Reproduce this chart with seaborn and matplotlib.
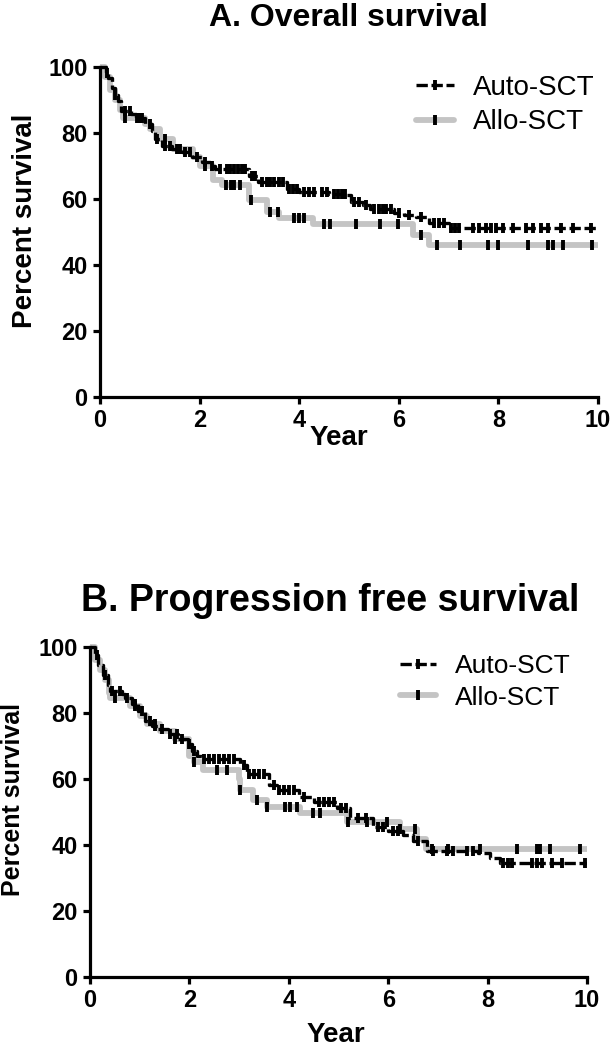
import numpy as np
import pandas as pd
import seaborn as sns
from matplotlib import pyplot as plt
from matplotlib.lines import Line2D

# ---- A. Overall survival ----
os_auto_t = [0, 0.12, 0.16, 0.24, 0.30, 0.36, 0.43, 0.62, 0.72, 0.90, 1.04, 1.10, 1.24, 1.44,
             1.64, 1.84, 2.04, 2.20, 2.30, 3.00, 3.18, 3.75, 4.00, 4.60, 4.95, 5.05, 5.28,
             5.42, 5.90, 6.10, 6.35, 6.60, 7.00, 10.0]
os_auto_s = [100, 98, 96.5, 93.5, 91.5, 89.6, 86.6, 85.5, 84.5, 82.5, 80.5, 78, 76, 75,
             74, 72.5, 71, 70, 69, 67, 65, 63, 62, 61.5, 61, 59, 58,
             57, 55.5, 55, 54.5, 52.5, 51, 51]
os_auto_cens = [0.15, 0.3, 0.5, 0.6, 0.75, 0.85, 1.0, 1.15, 1.3, 1.4, 1.55, 1.7, 1.8, 1.95,
                2.1, 2.25, 2.4, 2.55, 2.62, 2.7, 2.78, 2.85, 2.92, 3.05, 3.12, 3.25, 3.35,
                3.42, 3.5, 3.6, 3.68, 3.8, 3.88, 3.95, 4.1, 4.2, 4.3, 4.45, 4.55, 4.7, 4.78,
                4.85, 4.92, 5.1, 5.2, 5.35, 5.5, 5.6, 5.68, 5.75, 5.85, 6.0, 6.2, 6.45, 6.7,
                6.8, 6.9, 7.05, 7.12, 7.2, 7.5, 7.62, 7.75, 7.85, 7.95, 8.1, 8.3, 8.55, 8.7,
                8.85, 9.0, 9.25, 9.5, 9.85]
os_allo_t = [0, 0.10, 0.20, 0.30, 0.40, 0.46, 0.90, 1.00, 1.20, 1.47, 1.87, 2.00, 2.27,
             2.45, 3.00, 3.35, 3.60, 4.28, 6.29, 6.60, 10.0]
os_allo_s = [100, 97, 93, 90, 87, 84.5, 82.5, 81, 78, 75, 72.5, 70, 65.5,
             64, 59.6, 56, 54.2, 52.2, 49, 46, 46]
os_allo_cens = [0.5, 0.8, 1.3, 1.6, 2.1, 2.54, 2.63, 2.7, 2.81, 3.04, 3.41, 3.58, 3.9, 4.0,
                4.1, 4.49, 4.62, 5.15, 5.62, 5.98, 6.45, 6.76, 7.23, 7.8, 8.0, 8.6, 9.0,
                9.1, 9.3, 9.88]

# ---- B. Progression free survival ----
pfs_auto_t = [0, 0.10, 0.16, 0.26, 0.36, 0.40, 0.65, 0.70, 0.84, 0.97, 1.10, 1.24, 1.37,
              1.57, 1.77, 1.97, 2.05, 2.15, 2.25, 3.02, 3.15, 3.60, 3.76, 4.20, 4.50, 4.97,
              5.23, 5.70, 6.00, 6.30, 6.50, 6.78, 7.80, 8.05, 8.25, 10.0]
pfs_auto_s = [100, 97.5, 94.5, 91.5, 88.5, 86.6, 85.5, 84.5, 82.5, 80.6, 77.6, 76, 75,
              73.5, 72, 70.5, 68.5, 67, 66, 64, 61.5, 58, 56.6, 54.5, 53, 51,
              48, 45.5, 44, 43, 41, 38, 37.5, 36, 34.5, 34.5]
pfs_auto_cens = [0.15, 0.3, 0.45, 0.6, 0.75, 0.9, 1.05, 1.2, 1.3, 1.45, 1.6, 1.75, 1.85, 2.0,
                 2.1, 2.3, 2.4, 2.5, 2.6, 2.7, 2.8, 2.9, 3.1, 3.2, 3.3, 3.4, 3.5, 3.7, 3.8,
                 3.9, 4.0, 4.1, 4.3, 4.6, 4.7, 4.8, 4.9, 5.05, 5.15, 5.4, 5.55, 5.8, 5.9,
                 6.1, 6.2, 6.6, 6.9, 7.18, 7.3, 7.58, 7.7, 8.31, 8.4, 8.5, 8.9, 9.0, 9.1,
                 9.3, 9.5, 9.96]
pfs_allo_t = [0, 0.10, 0.20, 0.30, 0.38, 0.40, 0.80, 1.00, 1.15, 1.40, 1.70, 2.00, 2.10,
              2.27, 3.00, 3.02, 3.28, 3.56, 4.22, 5.17, 6.24, 6.58, 6.75, 10.0]
pfs_allo_s = [100, 96, 93, 90, 86, 84.5, 82, 79, 76.5, 74.5, 72, 67, 65,
              62.5, 60, 56.6, 53.6, 51.5, 49.5, 47, 44.6, 41.6, 38.6, 38.6]
pfs_allo_cens = [0.5, 0.9, 1.3, 1.7, 2.1, 2.55, 2.75, 3.02, 3.35, 3.56, 3.92, 4.02, 4.16,
                 4.49, 4.63, 5.2, 5.57, 5.97, 6.24, 6.54, 6.88, 7.2, 7.85, 8.59, 8.99,
                 9.05, 9.26, 9.86]

groups = ['Auto-SCT', 'Allo-SCT']
titles = ['A. Overall survival', 'B. Progression free survival']

sns.set_style('ticks')
plt.rcParams['font.family'] = ['Liberation Sans', 'DejaVu Sans']
plt.rcParams.update({'text.color': 'black', 'axes.labelcolor': 'black',
                     'xtick.color': 'black', 'ytick.color': 'black'})

gray = '#c4c4c4'
dash = (0, (3.4, 1.1))
f = plt.figure(figsize=(6.12, 10.5), dpi=100)
ax1 = f.add_axes([0.1634, 0.6222, 0.8137, 0.3175])
ax2 = f.add_axes([0.1471, 0.0698, 0.8121, 0.3175])


def surv_at(times, surv, cens):
    idx = np.searchsorted(times, cens, side='right') - 1
    return np.asarray(surv)[idx]


def km_panel(ax, auto_t, auto_s, auto_c, allo_t, allo_s, allo_c, leg_x, leg_fs):
    allo = pd.DataFrame({'t': allo_t, 's': allo_s})
    auto = pd.DataFrame({'t': auto_t, 's': auto_s})
    sns.lineplot(data=allo, x='t', y='s', color=gray, lw=4.2, drawstyle='steps-post',
                 estimator=None, ax=ax, zorder=2)
    sns.lineplot(data=auto, x='t', y='s', color='black', lw=2.4, drawstyle='steps-post',
                 linestyle=dash, estimator=None, ax=ax, zorder=3)
    ax.plot(allo_c, surv_at(allo_t, allo_s, allo_c), ls='none', marker='|', ms=7.5,
            mew=2.8, color='black', zorder=4)
    ax.plot(auto_c, surv_at(auto_t, auto_s, auto_c), ls='none', marker='|', ms=7.5,
            mew=2.8, color='black', zorder=4)
    ax.set_xlim(0, 10)
    ax.set_ylim(0, 101)
    ax.set_xticks(range(0, 11, 2))
    ax.set_yticks(range(0, 101, 20))
    ax.set_xlabel('')
    ax.set_ylabel('')
    sns.despine(ax=ax)
    ax.spines['left'].set_bounds(0, 100)
    for sp in ['left', 'bottom']:
        ax.spines[sp].set_linewidth(2.3)
        ax.spines[sp].set_color('black')
    ax.tick_params(width=2.3, length=5, color='black', labelcolor='black',
                   direction='out', pad=4, labelsize=17)
    for lab in ax.get_xticklabels() + ax.get_yticklabels():
        lab.set_fontweight('bold')
    handles = [Line2D([], [], color='black', lw=2.4, ls=dash, marker='|', ms=7.5,
                      mew=2.8, mec='black'),
               Line2D([], [], color=gray, lw=4.2, marker='|', ms=7.5, mew=2.8, mec='black')]
    ax.legend(handles, groups, frameon=False, fontsize=leg_fs, handlelength=1.35,
              handletextpad=0.7, labelspacing=0.3, loc='upper right',
              bbox_to_anchor=(leg_x, 1.04), labelcolor='black')


km_panel(ax1, os_auto_t, os_auto_s, os_auto_cens, os_allo_t, os_allo_s, os_allo_cens,
         1.044, 20)
km_panel(ax2, pfs_auto_t, pfs_auto_s, pfs_auto_cens, pfs_allo_t, pfs_allo_s, pfs_allo_cens,
         1.014, 19)

f.text(0.57, 0.983, titles[0], ha='center', va='center', fontsize=23, fontweight='bold')
f.text(0.540, 0.428, titles[1], ha='center', va='center', fontsize=27, fontweight='bold')

f.text(0.553, 1 - 438 / 1050, 'Year', ha='center', va='center', fontsize=20,
       fontweight='bold')
f.text(0.548, 1 - 1035 / 1050, 'Year', ha='center', va='center', fontsize=20,
       fontweight='bold')
f.text(25 / 612, 1 - 221 / 1050, 'Percent survival', rotation=90, ha='center',
       va='center', fontsize=20, fontweight='bold')
f.text(13 / 612, 1 - 799 / 1050, 'Percent survival', rotation=90, ha='center',
       va='center', fontsize=18, fontweight='bold')

f.savefig('out.png', dpi=100)
